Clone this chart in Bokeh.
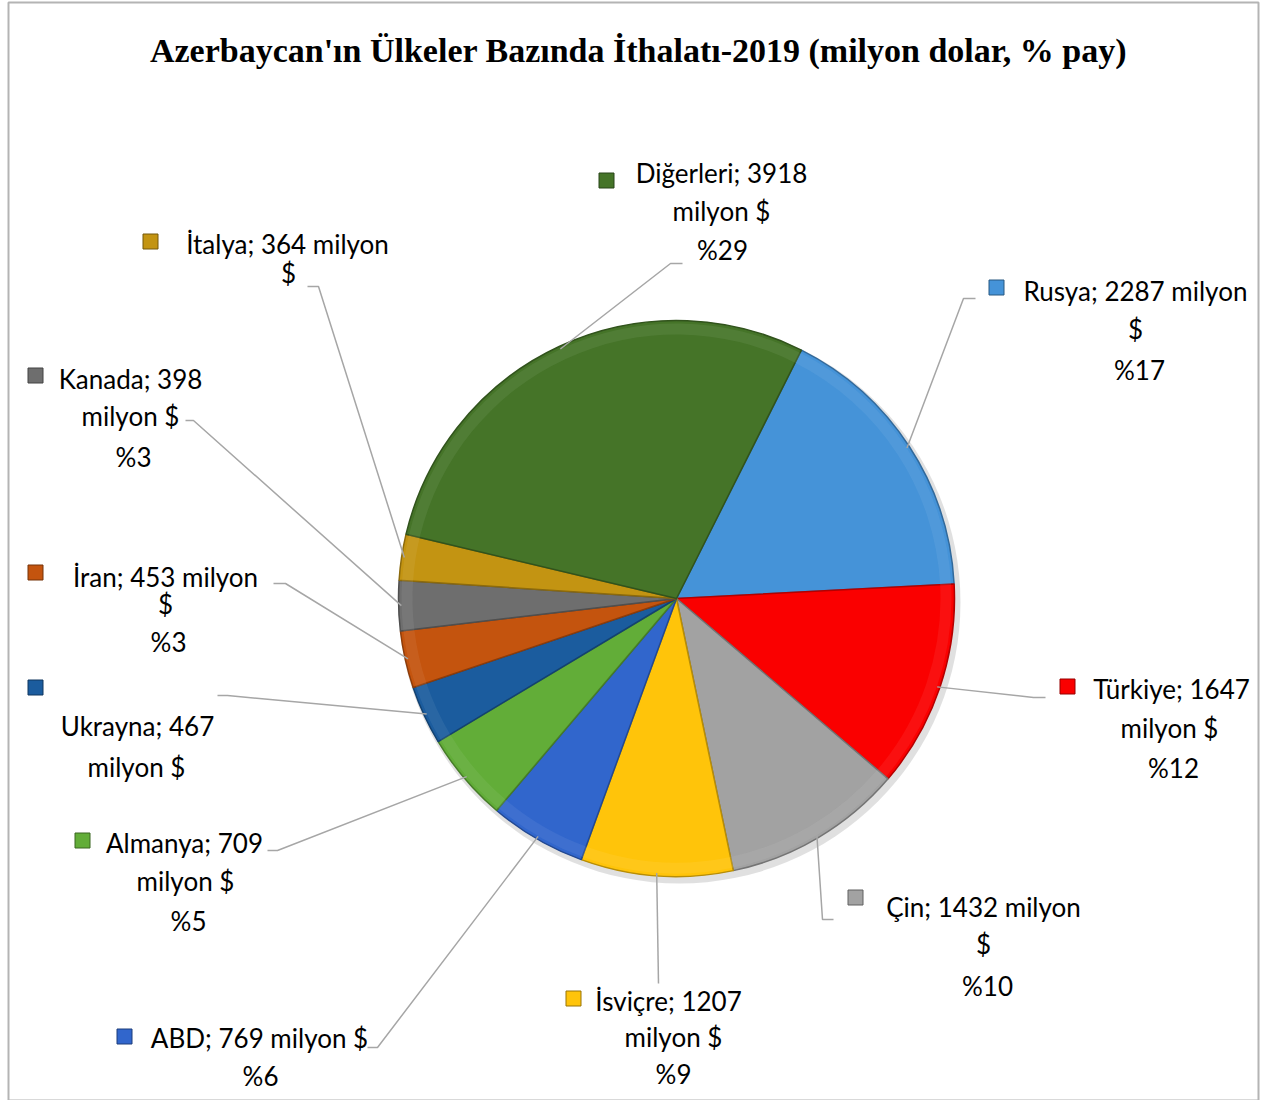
import math
from bokeh.plotting import figure
from bokeh.models import Range1d, ColumnDataSource
from bokeh.core.properties import value
from bokeh.embed import file_html
from bokeh.resources import INLINE

# ---------------- data ----------------
countries = ["Rusya", "Türkiye", "Çin", "İsviçre", "ABD", "Almanya",
             "Ukrayna", "İran", "Kanada", "İtalya", "Diğerleri"]
values = [2287, 1647, 1432, 1207, 769, 709, 467, 453, 398, 364, 3918]
title_text = "Azerbaycan'ın Ülkeler Bazında İthalatı-2019 (milyon dolar, % pay)"

# ---------------- style / layout ----------------
colors = ["#4593d8", "#fa0000", "#a2a2a2", "#ffc40a", "#3166cc", "#62ad38",
          "#1b5c9e", "#c4540e", "#6e6e6e", "#c39412", "#457428"]

# label layout: how the text is broken into lines, line centres, marker position
# break styles: "A" -> [name; value | milyon $ | %p]
#               "B" -> [name; value milyon | $ | %p]
#               "C" -> [name; value milyon $ | %p]
break_style = ["B", "A", "B", "A", "C", "A", "A", "B", "A", "B", "A"]
show_pct = [True, True, True, True, True, True, False, True, True, False, True]
line_x = [[1135, 1135, 1139], [1171, 1169, 1173], [983, 983, 987], [668, 673, 673],
          [259, 260], [184, 185, 188], [137, 136], [165, 165, 168],
          [130, 130, 133], [287, 288], [721, 721, 722]]
line_y = [[290, 328, 369], [688, 727, 767], [906, 943, 985], [1000, 1036, 1073],
          [1037, 1075], [842, 880, 920], [725, 766], [576, 603, 641],
          [378, 415, 456], [243, 272], [172, 210, 249]]
marker_xy = [(996, 287), (1067, 686), (855, 897), (573, 998), (124, 1036), (82, 840),
             (35, 687), (35, 572), (35, 375), (150, 241), (606, 180)]
leader_pts = [[(963, 298), (975, 298)], [(1033, 697), (1045, 697)],
              [(822, 919), (833, 919)], [(658, 983)],
              [(377, 1047), (367, 1047)], [(277, 850), (267, 850)],
              [(227, 695), (217, 695)], [(285, 583), (273, 583)],
              [(193, 420), (185, 420)], [(318, 286), (307, 286)],
              [(670, 263), (682, 263)]]
chart_box = (8, 1258, 2, 1100)  # left, right, top, bottom of the chart-area border

W, H = 1262, 1100
CX, CY, R = 676, 598, 278
FIRST = 26.7  # first slice angle, degrees clockwise from 12 o'clock


def darker(hexcol, f=0.72):
    r, g, b = (int(hexcol[i:i + 2], 16) for i in (1, 3, 5))
    return "#%02x%02x%02x" % (int(r * f), int(g * f), int(b * f))


def lighter(hexcol, f=0.35):
    r, g, b = (int(hexcol[i:i + 2], 16) for i in (1, 3, 5))
    return "#%02x%02x%02x" % (int(r + (255 - r) * f), int(g + (255 - g) * f), int(b + (255 - b) * f))


p = figure(width=W, height=H, output_backend="svg", toolbar_location=None,
           x_range=Range1d(0, W), y_range=Range1d(-H, 0),
           min_border=0, title=None)
p.axis.visible = False
p.grid.visible = False
p.outline_line_color = None
p.background_fill_color = "white"
p.border_fill_color = "white"

# chart-area border
p.quad(left=[chart_box[0]], right=[chart_box[1]], top=[-chart_box[2]],
       bottom=[-chart_box[3]], fill_color=None, line_color="#b4b4b4", line_width=2)

total = float(sum(values))
starts, ends, mids = [], [], []
acc = FIRST
for v in values:
    a0 = acc
    a1 = acc + v / total * 360.0
    starts.append(math.radians(90 - a0))
    ends.append(math.radians(90 - a1))
    mids.append((a0 + a1) / 2)
    acc = a1

# soft shadow
p.circle(x=[CX + 3], y=[-(CY + 4)], radius=R + 3, fill_color="#000000",
         fill_alpha=0.12, line_color=None)

src = ColumnDataSource(dict(x=[CX] * len(values), y=[-CY] * len(values),
                            start=starts, end=ends, color=colors,
                            edge=[darker(c) for c in colors],
                            light=[lighter(c) for c in colors]))
p.wedge(x="x", y="y", radius=R, start_angle="start", end_angle="end",
        direction="clock", fill_color="color", line_color="edge",
        line_width=1.5, source=src)
# bevel-like inner highlight
p.annular_wedge(x="x", y="y", inner_radius=R - 14, outer_radius=R - 3,
                start_angle="start", end_angle="end", direction="clock",
                fill_color="light", fill_alpha=0.18, line_color=None, source=src)

# leader lines
xs, ys = [], []
for i, m in enumerate(mids):
    a = math.radians(m)
    px = CX + R * 0.99 * math.sin(a)
    py = CY - R * 0.99 * math.cos(a)
    pts = [(px, py)] + leader_pts[i]
    xs.append([q[0] for q in pts])
    ys.append([-q[1] for q in pts])
p.multi_line(xs=xs, ys=ys, line_color="#a6a6a6", line_width=1.5)

# labels
tx, ty, tt = [], [], []
for i, name in enumerate(countries):
    v = values[i]
    pct = "%" + str(int(round(v / total * 100)))
    s = break_style[i]
    if s == "A":
        lines = [f"{name}; {v}", "milyon $", pct]
    elif s == "B":
        lines = [f"{name}; {v} milyon", "$", pct]
    else:
        lines = [f"{name}; {v} milyon $", pct]
    if not show_pct[i]:
        lines = lines[:-1]
    for j, ln in enumerate(lines):
        tx.append(line_x[i][j])
        ty.append(-line_y[i][j])
        tt.append(ln)
p.text(x=tx, y=ty, text=tt, text_align="center", text_baseline="middle",
       text_font=value("Lato"), text_font_size="26px", text_color="#000000")

# legend-key markers
p.scatter(x=[m[0] for m in marker_xy], y=[-m[1] for m in marker_xy],
          marker="square", size=15, fill_color=colors,
          line_color=[darker(c, 0.6) for c in colors], line_width=1)

# title
p.text(x=[638], y=[-50], text=[title_text], text_align="center",
       text_baseline="middle", text_font=value("Liberation Serif"),
       text_font_style="bold", text_font_size="34px", text_color="#000000")

open("out.html", "w").write(file_html(p, INLINE))
